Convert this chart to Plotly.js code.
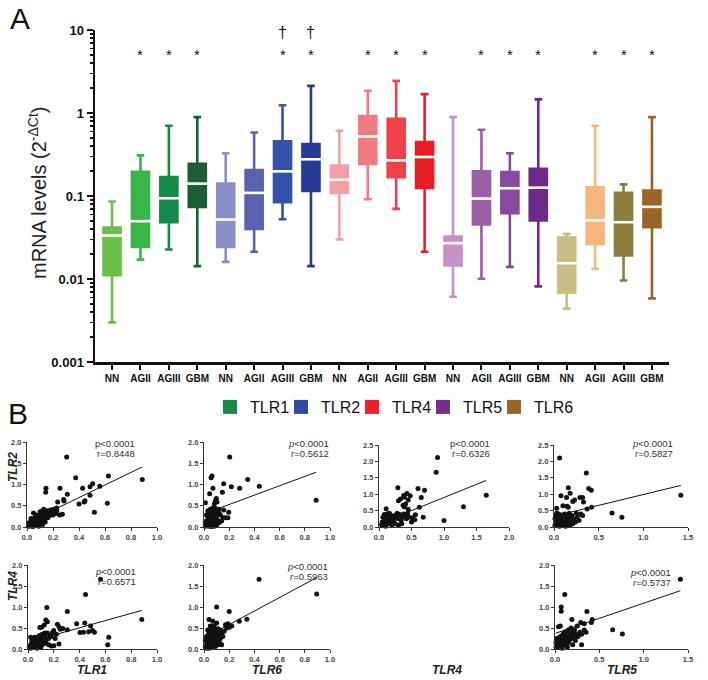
<!DOCTYPE html>
<html><head><meta charset="utf-8">
<script src="https://cdn.plot.ly/plotly-3.0.1.min.js"></script>
<style>body{margin:0;background:#fff}#g{width:708px;height:680px}</style>
</head><body><div id="g"></div>
<script>
// ---------- Panel A data ----------
const genes = ['TLR1','TLR2','TLR4','TLR5','TLR6'];
const grades = ['NN','AGII','AGIII','GBM'];
const boxLow  = [0.0030,0.0171,0.0227,0.0143, 0.0161,0.0213,0.0525,0.0143, 0.030,0.0914,0.070,0.0213, 0.00612,0.01006,0.0140,0.00815, 0.0044,0.0133,0.0096,0.00585];
const boxQ1   = [0.0111,0.0244,0.0483,0.074, 0.0244,0.0402,0.0841,0.115, 0.109,0.243,0.168,0.125, 0.0146,0.0453,0.062,0.0506, 0.00684,0.0265,0.0192,0.042];
const boxMed  = [0.0334,0.0497,0.094,0.141, 0.052,0.109,0.198,0.277, 0.157,0.522,0.269,0.295, 0.0270,0.0931,0.124,0.126, 0.0155,0.051,0.0483,0.074];
const boxQ3   = [0.0417,0.196,0.169,0.245, 0.141,0.206,0.455,0.423, 0.232,0.916,0.851,0.447, 0.0325,0.198,0.195,0.213, 0.0316,0.127,0.109,0.116];
const boxHigh = [0.0857,0.309,0.701,0.891, 0.327,0.583,1.24,2.12, 0.611,1.85,2.44,1.69, 0.891,0.628,0.327,1.46, 0.035,0.701,0.138,0.891];
const boxColors = ['#6cc04a','#39b54a','#138a48','#1b5e33', '#8a8fc8','#5b62b0','#3652a6','#283a96', '#f5a0a6','#f27b82','#ec4148','#e81e25', '#c592c8','#9b5ea8','#874a9c','#6d2a88', '#c8bd82','#f6b77e','#8b7d3e','#9a6428'];
const legendColors = ['#138a48','#2e4aa3','#e9212a','#7a2c8f','#986329'];
const starIdx = [1,2,3,6,7,9,10,11,13,14,15,17,18,19];
const daggerIdx = [6,7];

// ---------- Panel B data (x, y) ----------
const tlr1_tlr2 = [[0.305,1.65],[0.374,1.16],[0.626,1.20],[0.887,1.12],[0.505,1.02],[0.485,0.95],[0.56,0.96],[0.428,0.91],[0.254,0.91],[0.146,0.91],[0.144,0.82],[0.31,0.77],[0.485,0.75],[0.282,0.65],[0.285,0.61],[0.446,0.62],[0.44,0.59],[0.40,0.54],[0.618,0.56],[0.236,0.59],[0.518,0.35],[0.272,0.30],[0.228,0.45],[0.203,0.42],
 [0.13,0.42],[0.12,0.38],[0.14,0.35],[0.16,0.38],[0.18,0.4],[0.2,0.37],[0.22,0.32],[0.25,0.28],[0.23,0.38],[0.19,0.3],[0.17,0.32],[0.15,0.28],[0.13,0.25],[0.11,0.3],[0.1,0.27],[0.09,0.22],[0.08,0.2],[0.07,0.16],[0.06,0.14],[0.05,0.1],[0.04,0.07],[0.03,0.05],[0.02,0.03],[0.01,0.02],[0.02,0.08],[0.03,0.12],[0.04,0.18],[0.05,0.33],[0.06,0.22],[0.07,0.1],[0.08,0.12],[0.09,0.15],[0.1,0.18],[0.11,0.2],[0.12,0.15],[0.1,0.08],[0.08,0.05],[0.06,0.04],[0.05,0.02],[0.04,0.01],[0.09,0.02],[0.12,0.06],[0.14,0.12],[0.16,0.22],[0.11,0.12],[0.07,0.28],[0.1,0.36],[0.03,0.2],[0.015,0.1],[0.13,0.18],[0.17,0.26],[0.2,0.28]];
const tlr6_tlr2 = [[0.204,1.65],[0.063,1.20],[0.056,1.16],[0.156,1.02],[0.347,1.12],[0.217,0.95],[0.283,0.91],[0.439,0.96],[0.071,0.91],[0.146,0.82],[0.045,0.78],[0.098,0.67],[0.09,0.61],[0.103,0.59],[0.082,0.55],[0.011,0.57],[0.89,0.63],[0.196,0.35],[0.19,0.22],[0.17,0.22],[0.156,0.40],
 [0.05,0.42],[0.06,0.4],[0.07,0.38],[0.08,0.42],[0.04,0.35],[0.05,0.3],[0.06,0.32],[0.07,0.28],[0.08,0.33],[0.09,0.36],[0.1,0.3],[0.11,0.35],[0.12,0.32],[0.13,0.28],[0.03,0.25],[0.04,0.22],[0.05,0.2],[0.06,0.24],[0.07,0.18],[0.08,0.22],[0.09,0.25],[0.1,0.2],[0.11,0.15],[0.02,0.15],[0.03,0.1],[0.04,0.12],[0.05,0.08],[0.06,0.1],[0.07,0.06],[0.08,0.12],[0.09,0.08],[0.1,0.05],[0.02,0.05],[0.01,0.02],[0.03,0.03],[0.04,0.02],[0.06,0.01],[0.08,0.02],[0.12,0.1],[0.14,0.14],[0.15,0.22],[0.07,0.45],[0.05,0.15],[0.02,0.28],[0.03,0.38],[0.09,0.44],[0.12,0.42],[0.01,0.1]];
const tlr4_tlr2 = [[0.9,2.12],[0.88,1.67],[1.65,0.97],[1.3,0.62],[1.0,0.2],[0.29,1.2],[0.6,1.17],[0.7,1.12],[0.43,1.02],[0.48,0.95],[0.38,0.96],[0.39,0.91],[0.33,0.85],[0.65,0.9],[0.45,0.82],[0.41,0.7],[0.37,0.66],[0.39,0.61],[0.45,0.54],[0.62,0.6],[0.11,0.56],[0.51,0.28],[0.56,0.37],[0.68,0.3],[0.3,0.8],
 [0.05,0.05],[0.07,0.1],[0.08,0.15],[0.1,0.2],[0.12,0.25],[0.14,0.3],[0.15,0.1],[0.17,0.2],[0.18,0.35],[0.2,0.28],[0.22,0.15],[0.25,0.1],[0.27,0.3],[0.3,0.25],[0.32,0.38],[0.34,0.2],[0.36,0.3],[0.38,0.4],[0.4,0.35],[0.42,0.25],[0.44,0.42],[0.46,0.3],[0.3,0.05],[0.2,0.05],[0.1,0.02],[0.06,0.3],[0.08,0.38],[0.12,0.4],[0.16,0.42],[0.09,0.05],[0.13,0.12],[0.19,0.12],[0.24,0.35],[0.28,0.42],[0.35,0.1],[0.5,0.15],[0.55,0.22],[0.14,0.18],[0.11,0.3],[0.23,0.22],[0.05,0.15],[0.04,0.08]];
const tlr5_tlr2 = [[0.063,2.1],[0.362,1.65],[0.388,1.17],[0.418,1.12],[0.16,1.2],[0.18,1.03],[0.078,0.95],[0.14,0.9],[0.29,0.9],[0.32,0.9],[0.33,0.76],[0.21,0.78],[0.23,0.82],[0.146,0.63],[0.16,0.6],[0.1,0.65],[0.37,0.55],[0.42,0.6],[0.65,0.43],[0.76,0.3],[1.42,0.97],[0.03,0.57],[0.3,0.4],[0.32,0.35],
 [0.01,0.05],[0.02,0.1],[0.03,0.2],[0.04,0.3],[0.05,0.4],[0.06,0.15],[0.07,0.25],[0.08,0.35],[0.09,0.05],[0.1,0.2],[0.11,0.3],[0.12,0.4],[0.13,0.1],[0.14,0.25],[0.15,0.35],[0.16,0.15],[0.17,0.3],[0.18,0.05],[0.19,0.2],[0.2,0.35],[0.22,0.25],[0.24,0.15],[0.26,0.3],[0.28,0.2],[0.02,0.35],[0.04,0.12],[0.06,0.02],[0.08,0.18],[0.1,0.1],[0.12,0.22],[0.03,0.42],[0.05,0.28],[0.07,0.08],[0.09,0.3],[0.11,0.38],[0.13,0.02],[0.15,0.12],[0.21,0.1],[0.25,0.42],[0.01,0.25],[0.06,0.38],[0.17,0.42]];
const tlr1_tlr4 = [[0.562,1.66],[0.446,1.3],[0.146,0.99],[0.305,0.89],[0.882,0.7],[0.138,0.69],[0.15,0.65],[0.228,0.59],[0.24,0.53],[0.377,0.6],[0.44,0.62],[0.485,0.55],[0.5,0.44],[0.515,0.4],[0.47,0.41],[0.403,0.39],[0.43,0.4],[0.305,0.46],[0.626,0.28],[0.618,0.1],[0.092,0.51],[0.105,0.52],[0.126,0.57],[0.25,0.47],[0.27,0.49],[0.2,0.44],[0.19,0.39],[0.24,0.12],[0.18,0.07],[0.2,0.08],
 [0.01,0.05],[0.02,0.1],[0.03,0.15],[0.04,0.2],[0.05,0.28],[0.06,0.12],[0.07,0.22],[0.08,0.3],[0.09,0.18],[0.1,0.25],[0.11,0.35],[0.12,0.2],[0.13,0.3],[0.14,0.15],[0.15,0.38],[0.16,0.25],[0.17,0.32],[0.02,0.28],[0.03,0.05],[0.04,0.1],[0.05,0.15],[0.06,0.25],[0.07,0.08],[0.08,0.15],[0.09,0.32],[0.1,0.1],[0.11,0.2],[0.12,0.12],[0.13,0.38],[0.14,0.22],[0.02,0.02],[0.05,0.05],[0.07,0.02],[0.1,0.04],[0.03,0.22],[0.06,0.18],[0.08,0.22],[0.09,0.12],[0.12,0.28],[0.16,0.1],[0.18,0.3],[0.22,0.35],[0.21,0.25]];
const tlr6_tlr4 = [[0.437,1.66],[0.894,1.31],[0.1,1.0],[0.2,0.89],[0.34,0.71],[0.28,0.66],[0.2,0.52],[0.17,0.58],[0.19,0.6],[0.04,0.7],[0.07,0.66],[0.1,0.62],[0.14,0.1],[0.13,0.12],[0.16,0.42],[0.18,0.5],[0.22,0.55],
 [0.01,0.05],[0.02,0.1],[0.03,0.2],[0.04,0.3],[0.05,0.4],[0.06,0.15],[0.07,0.25],[0.08,0.35],[0.09,0.45],[0.1,0.2],[0.11,0.3],[0.12,0.4],[0.13,0.25],[0.14,0.35],[0.02,0.3],[0.03,0.05],[0.04,0.12],[0.05,0.22],[0.06,0.32],[0.07,0.42],[0.08,0.1],[0.09,0.2],[0.1,0.35],[0.11,0.48],[0.12,0.15],[0.03,0.45],[0.05,0.55],[0.06,0.5],[0.08,0.55],[0.02,0.02],[0.04,0.02],[0.06,0.05],[0.09,0.06],[0.11,0.1],[0.01,0.2],[0.07,0.12],[0.1,0.28],[0.13,0.45],[0.15,0.3],[0.04,0.38],[0.06,0.25],[0.08,0.28],[0.12,0.22],[0.03,0.32],[0.09,0.38]];
const tlr5_tlr4 = [[1.414,1.66],[0.11,1.3],[0.07,1.0],[0.07,0.9],[0.36,0.89],[0.65,0.46],[0.76,0.36],[0.42,0.7],[0.41,0.63],[0.19,0.7],[0.29,0.63],[0.33,0.6],[0.3,0.1],[0.2,0.1],[0.04,0.53],[0.06,0.55],[0.25,0.55],[0.35,0.4],[0.33,0.45],
 [0.01,0.05],[0.02,0.1],[0.03,0.2],[0.04,0.25],[0.05,0.12],[0.06,0.3],[0.07,0.15],[0.08,0.22],[0.09,0.35],[0.1,0.1],[0.11,0.28],[0.12,0.4],[0.13,0.18],[0.14,0.3],[0.15,0.45],[0.16,0.2],[0.17,0.35],[0.18,0.5],[0.19,0.25],[0.2,0.4],[0.21,0.3],[0.22,0.45],[0.23,0.2],[0.24,0.35],[0.26,0.3],[0.28,0.4],[0.3,0.35],[0.02,0.25],[0.03,0.05],[0.04,0.15],[0.05,0.28],[0.06,0.08],[0.07,0.22],[0.08,0.02],[0.09,0.15],[0.1,0.25],[0.12,0.1],[0.14,0.05],[0.01,0.15],[0.06,0.2],[0.11,0.4],[0.15,0.15],[0.18,0.28]];
// regression fits (slope, intercept) and stats
const fitSlope     = [1.48, 1.10, 0.80, 0.66, 0.86, 1.61, 0.72];
const fitIntercept = [0.10, 0.31, 0.10, 0.33, 0.16, 0.26, 0.37];
const rValues = ['0.8448','0.5612','0.6326','0.5827','0.6571','0.5963','0.5737'];
const italicStats = [false,true,false,true,true,true,true];

// ---------- layout helpers (pixel -> paper) ----------
const W=708,H=680;
const px=x=>x/W, py=y=>1-y/H;
const FONT='Arial, "Liberation Sans", sans-serif';

const traces=[]; const annotations=[];
const layout={width:W,height:H,margin:{l:0,r:0,t:0,b:0},paper_bgcolor:'#fff',plot_bgcolor:'rgba(0,0,0,0)',
  showlegend:true,hovermode:false,font:{family:FONT,color:'#111'},annotations};
const txt=(x,y,text,size,extra)=>Object.assign({xref:'paper',yref:'paper',x:px(x),y:py(y),xanchor:'center',yanchor:'middle',
  text:text,showarrow:false,font:{size:size,color:'#111'}},extra||{});

// Panel A
const idx = boxMed.map((_,i)=>i);
idx.forEach(i=>{
  traces.push({type:'box',x:[i],q1:[boxQ1[i]],median:[boxMed[i]],q3:[boxQ3[i]],lowerfence:[boxLow[i]],upperfence:[boxHigh[i]],
    width:0.6,whiskerwidth:0.45,boxpoints:false,fillcolor:boxColors[i],line:{color:boxColors[i],width:2.6},
    showlegend:false,xaxis:'x',yaxis:'y',hoverinfo:'skip'});
});
traces.push({type:'scatter',mode:'markers',x:idx,y:boxMed,marker:{symbol:'line-ew',size:18,line:{color:'#ffffff',width:2.6}},
  showlegend:false,xaxis:'x',yaxis:'y',hoverinfo:'skip',cliponaxis:false});
genes.forEach((g,k)=>traces.push({type:'scatter',mode:'markers',x:[null],y:[null],name:g,
  marker:{symbol:'square',size:14,color:legendColors[k]},xaxis:'x',yaxis:'y'}));
// blank spacer entry so the last legend label is not clipped
traces.push({type:'scatter',mode:'markers',x:[null],y:[null],name:' ',marker:{symbol:'square',size:1,color:'rgba(0,0,0,0)'},xaxis:'x',yaxis:'y'});

layout.xaxis={domain:[px(95),px(669)],range:[-0.6,19.6],tickvals:idx,ticktext:idx.map(i=>grades[i%4]),
  ticks:'outside',ticklen:5,tickwidth:2,tickcolor:'#111',showline:true,linewidth:2.5,linecolor:'#111',
  showgrid:false,zeroline:false,tickfont:{size:10,weight:'bold',color:'#111'},anchor:'y',fixedrange:true};
layout.yaxis={domain:[py(362),py(30)],type:'log',range:[-3,1],tickvals:[0.001,0.01,0.1,1,10],ticktext:['0.001','0.01','0.1','1','10'],
  ticks:'outside',ticklen:6,tickwidth:2,tickcolor:'#111',showline:true,linewidth:2.5,linecolor:'#111',showgrid:false,zeroline:false,
  tickfont:{size:13,weight:'bold',color:'#111'},anchor:'x',
  minor:{ticks:'outside',ticklen:3,tickwidth:1.5,tickcolor:'#111',dtick:'D1',showgrid:false}};
layout.legend={orientation:'h',x:px(210),xanchor:'left',y:py(407),yanchor:'middle',font:{size:16,color:'#111',family:FONT},
  itemwidth:30,entrywidth:26,entrywidthmode:'pixels',bgcolor:'rgba(0,0,0,0)',borderwidth:0};

starIdx.forEach(i=>annotations.push({xref:'x',yref:'y',x:i,y:0.70,xanchor:'center',yanchor:'middle',text:'*',showarrow:false,font:{size:15,color:'#111'}}));
daggerIdx.forEach(i=>annotations.push({xref:'x',yref:'y',x:i,y:0.975,xanchor:'center',yanchor:'middle',text:'†',showarrow:false,font:{size:16,color:'#111'}}));
annotations.push(txt(37,193,'mRNA levels (2<sup>-ΔCt</sup>)',20,{textangle:-90,font:{size:20,color:'#222'}}));
annotations.push(txt(20,18,'A',30));
annotations.push(txt(18,414,'B',30));

// Panel B
const scatterSets=[tlr1_tlr2,tlr6_tlr2,tlr4_tlr2,tlr5_tlr2,tlr1_tlr4,tlr6_tlr4,tlr5_tlr4];
const panels=[
  {xd:[27,157],yd:[442,527],xr:[0,1],yr:[0,2],xdt:0.2,ydt:0.5,sx:137,sy:443},
  {xd:[204,330],yd:[442,527],xr:[0,1],yr:[0,2],xdt:0.2,ydt:0.5,sx:331,sy:443},
  {xd:[379,509],yd:[445,527],xr:[0,2],yr:[0,2.5],xdt:0.5,ydt:0.5,sx:492,sy:443},
  {xd:[554,688],yd:[445,527],xr:[0,1.5],yr:[0,2.5],xdt:0.5,ydt:0.5,sx:675,sy:443},
  {xd:[28,157],yd:[565,649],xr:[0,1],yr:[0,2],xdt:0.2,ydt:0.5,sx:138,sy:571},
  {xd:[204,330],yd:[565,649],xr:[0,1],yr:[0,2],xdt:0.2,ydt:0.5,sx:330,sy:566},
  {xd:[555,688],yd:[565,649],xr:[0,1.5],yr:[0,2],xdt:0.5,ydt:0.5,sx:673,sy:572}
];
const axBase={showline:true,linewidth:1,linecolor:'#333',ticks:'outside',ticklen:3,tickwidth:1,tickcolor:'#333',
  showgrid:false,zeroline:false,tickformat:'.1f',tickfont:{size:7.5,weight:'bold',color:'#444'},fixedrange:true};
panels.forEach((p,k)=>{
  const n=k+2, xa='x'+n, ya='y'+n;
  layout['xaxis'+n]=Object.assign({},axBase,{domain:[px(p.xd[0]),px(p.xd[1])],range:p.xr,dtick:p.xdt,tick0:0,anchor:ya});
  layout['yaxis'+n]=Object.assign({},axBase,{domain:[py(p.yd[1]),py(p.yd[0])],range:p.yr,dtick:p.ydt,tick0:0,anchor:xa});
  const pts=scatterSets[k];
  const xs=pts.map(d=>d[0]), ys=pts.map(d=>d[1]);
  traces.push({type:'scatter',mode:'markers',x:xs,y:ys,xaxis:xa,yaxis:ya,marker:{color:'#111',size:5},
    showlegend:false,cliponaxis:false,hoverinfo:'skip'});
  const x0=Math.min(...xs), x1=Math.max(...xs);
  traces.push({type:'scatter',mode:'lines',x:[x0,x1],y:[fitIntercept[k]+fitSlope[k]*x0,fitIntercept[k]+fitSlope[k]*x1],
    xaxis:xa,yaxis:ya,line:{color:'#111',width:1},showlegend:false,cliponaxis:false,hoverinfo:'skip'});
  const pl=italicStats[k]?'<i>p</i>':'p', rl=italicStats[k]?'<i>r</i>':'r';
  annotations.push(txt(p.sx,p.sy,pl+'<0.0001',9.5,{xanchor:'right',font:{size:9.5,color:'#333'}}));
  annotations.push(txt(p.sx,p.sy+10,rl+'='+rValues[k],9.5,{xanchor:'right',font:{size:9.5,color:'#333'}}));
});
const axTitles=[['TLR2',13,467,-90],['TLR4',13,586,-90],['TLR1',92,670,0],['TLR6',267,670,0],['TLR4',447,670,0],['TLR5',622,670,0]];
axTitles.forEach(t=>annotations.push(txt(t[1],t[2],'<b><i>'+t[0]+'</i></b>',12,{textangle:t[3],font:{size:12,color:'#222'}})));

Plotly.newPlot('g',traces,layout,{staticPlot:true});
</script></body></html>
